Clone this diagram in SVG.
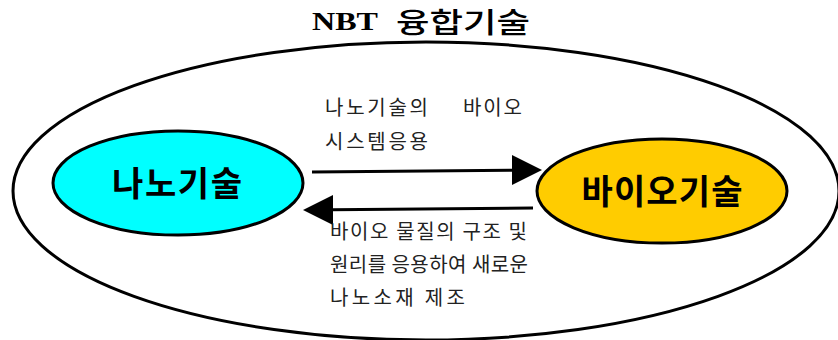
<svg xmlns="http://www.w3.org/2000/svg" width="838" height="340" viewBox="0 0 838 340">
<style>
.lbl{font-family:"Noto Sans CJK KR","Noto Sans",sans-serif;font-size:20px;fill:#222;}
.node{font-family:"Noto Sans CJK KR","Noto Sans",sans-serif;font-size:34px;font-weight:bold;fill:#000;text-anchor:middle;}
.conn{stroke:#000;stroke-width:3;fill:none;}
</style>
<rect width="838" height="340" fill="#fff"/>
<g id="outer">
<ellipse cx="426" cy="191" rx="413" ry="149" fill="none" stroke="#000" stroke-width="3"/>
</g>
<g id="title">
<text x="312" y="30" font-family="'Liberation Serif','Noto Sans CJK KR',serif" font-size="26" font-weight="bold" fill="#000" textLength="66" lengthAdjust="spacingAndGlyphs">NBT</text>
<text x="396" y="33" font-family="'Noto Sans CJK KR','Noto Sans',sans-serif" font-size="28" font-weight="500" fill="#000" textLength="134" lengthAdjust="spacingAndGlyphs">융합기술</text>
</g>
<g id="connectors">
<line class="conn" x1="312" y1="172" x2="514" y2="170.2"/>
<path d="M512,155 L542,170 L512,185 Z" fill="#000"/>
<line class="conn" x1="533" y1="208" x2="331" y2="209.8"/>
<path d="M333,195 L303,210 L333,225 Z" fill="#000"/>
</g>
<g id="nano">
<ellipse cx="178" cy="183" rx="125" ry="52" fill="#00ffff" stroke="#000" stroke-width="3"/>
<text class="node" x="177" y="196" textLength="130" lengthAdjust="spacing">나노기술</text>
</g>
<g id="bio">
<ellipse cx="662" cy="191" rx="125" ry="52" fill="#ffcc00" stroke="#000" stroke-width="3"/>
<text class="node" x="662" y="204" textLength="161" lengthAdjust="spacing">바이오기술</text>
</g>
<g id="label-top">
<text class="lbl" x="325" y="115" textLength="103" lengthAdjust="spacing">나노기술의</text>
<text class="lbl" x="463" y="115" textLength="59" lengthAdjust="spacing">바이오</text>
<text class="lbl" x="325" y="149" textLength="103" lengthAdjust="spacing">시스템응용</text>
</g>
<g id="label-bottom">
<text class="lbl" x="330" y="239" textLength="197" lengthAdjust="spacing">바이오 물질의 구조 및</text>
<text class="lbl" x="330" y="272" textLength="198" lengthAdjust="spacing">원리를 응용하여 새로운</text>
<text class="lbl" x="330" y="305" textLength="135" lengthAdjust="spacing">나노소재 제조</text>
</g>
</svg>
